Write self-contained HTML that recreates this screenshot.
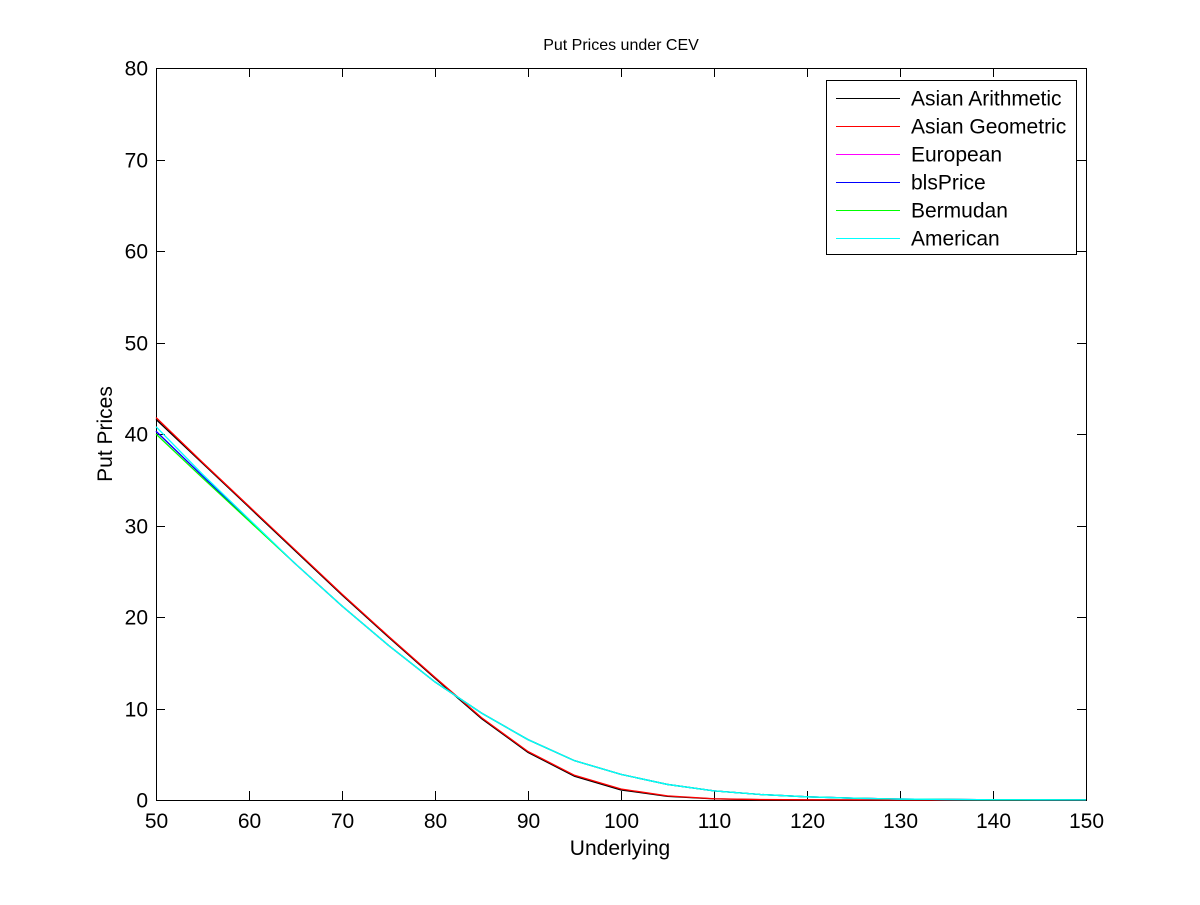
<!DOCTYPE html>
<html><head><meta charset="utf-8"><style>
body{margin:0;background:#fff;}
svg text{font-family:"Liberation Sans",Arial,sans-serif;}
</style></head><body>
<svg id="c" width="1200" height="900" xmlns="http://www.w3.org/2000/svg">
<rect width="1200" height="900" fill="#fff"/>
<g id="plot"></g>
</svg>
<script>
const xs=[50,55,60,65,70,75,80,85,90,95,100,105,110,115,120,125,130,135,140,145,150];
const asianArith=[41.6,36.8,32,27.2,22.4,17.8,13.3,8.9,5.2,2.6,1.1,0.4,0.12,0.04,0.01,0,0,0,0,0,0];
const asianGeom=[41.8,36.9,32.1,27.3,22.5,17.9,13.4,9.0,5.3,2.7,1.2,0.45,0.14,0.05,0.02,0.01,0,0,0,0,0];
const european=[40.3,35.4,30.6,25.8,21.2,16.9,12.9,9.5,6.6,4.3,2.8,1.7,1.0,0.6,0.35,0.2,0.1,0.06,0.03,0.02,0.01];
const blsPrice=[40.3,35.4,30.6,25.8,21.2,16.9,12.9,9.5,6.6,4.3,2.8,1.7,1.0,0.6,0.35,0.2,0.1,0.06,0.03,0.02,0.01];
const bermudan=[40.0,35.2,30.5,25.8,21.2,16.9,12.9,9.5,6.6,4.3,2.8,1.7,1.0,0.6,0.35,0.2,0.1,0.06,0.03,0.02,0.01];
const american=[40.8,35.6,30.7,25.8,21.2,16.9,12.9,9.5,6.6,4.3,2.8,1.7,1.0,0.6,0.35,0.2,0.1,0.06,0.03,0.02,0.01];
const xTicks=[50,60,70,80,90,100,110,120,130,140,150];
const yTicks=[0,10,20,30,40,50,60,70,80];
const seriesNames=["Asian Arithmetic","Asian Geometric","European","blsPrice","Bermudan","American"];
const seriesData=[asianArith,asianGeom,european,blsPrice,bermudan,american];
const colors=["#000","#f00","#f0f","#00f","#0f0","#0ff"];
const L=156,R=1086,T=68,B=800;
const X=v=>L+(v-50)/100*(R-L);
const Y=v=>B-v/80*(B-T);
const ns="http://www.w3.org/2000/svg";
const g=document.getElementById('plot');
function mk(t,a,txt){const e=document.createElementNS(ns,t);for(const k in a)e.setAttribute(k,a[k]);if(txt!=null)e.textContent=txt;g.appendChild(e);return e;}
let ax=mk('rect',{x:L+0.5,y:T+0.5,width:R-L,height:B-T,fill:'none',stroke:'#000','stroke-width':1});


xTicks.forEach(v=>{
 const x=Math.round(X(v))+0.5;
 mk('line',{x1:x,y1:B,x2:x,y2:B-9,stroke:'#000'});
 mk('line',{x1:x,y1:T,x2:x,y2:T+9,stroke:'#000'});
 const t=mk('text',{x:x,y:B+28,'text-anchor':'middle','font-size':21},v);
 
 
});
yTicks.forEach(v=>{
 const y=Math.round(Y(v))+0.5;
 mk('line',{x1:L,y1:y,x2:L+9,y2:y,stroke:'#000'});
 mk('line',{x1:R,y1:y,x2:R-9,y2:y,stroke:'#000'});
 const t=mk('text',{x:L-8,y:y+7,'text-anchor':'end','font-size':21},v);
 
 
});
seriesData.forEach((d,i)=>{
 const p=mk('polyline',{points:xs.map((x,j)=>X(x)+','+Y(d[j])).join(' '),fill:'none',stroke:colors[i],'stroke-width':1.3});
 
 
});
let tt=mk('text',{x:621,y:50,'text-anchor':'middle','font-size':16},'Put Prices under CEV');


let xl=mk('text',{x:620,y:855,'text-anchor':'middle','font-size':21},'Underlying');


let yl=mk('text',{x:112,y:434,'text-anchor':'middle','font-size':21,transform:'rotate(-90 112 434)'},'Put Prices');


let lb=mk('rect',{x:826.5,y:80.5,width:250,height:174,fill:'#fff',stroke:'#000'});


seriesNames.forEach((n,i)=>{
 const y=98.5+i*28;
 mk('line',{x1:836,y1:y,x2:900,y2:y,stroke:colors[i]});
 const t=mk('text',{x:911,y:y+7,'font-size':21},n);
 
 
});
</script>
</body></html>
